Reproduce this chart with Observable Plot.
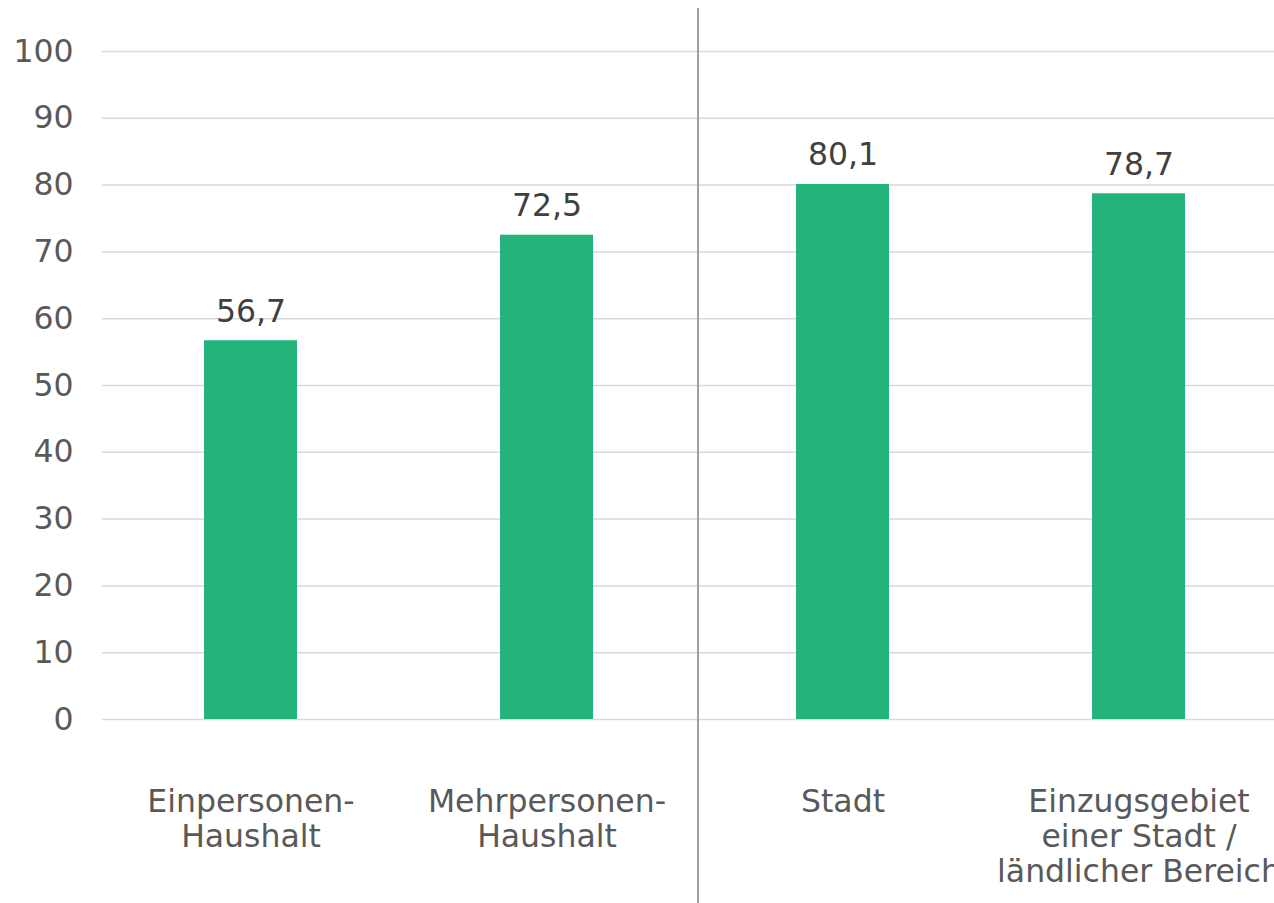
<!DOCTYPE html>
<html>
<head>
<meta charset="utf-8">
<script src="https://cdn.jsdelivr.net/npm/d3@7"></script>
<script src="https://cdn.jsdelivr.net/npm/@observablehq/plot@0.6"></script>
<style>
  html, body { margin: 0; padding: 0; background: #fff; overflow: hidden; }
  #chart svg { display: block; }
</style>
</head>
<body>
<div id="chart"></div>
<script>
const categories = ["Einpersonen-Haushalt", "Mehrpersonen-Haushalt", "Stadt", "Einzugsgebiet einer Stadt / ländlicher Bereich"];
const tickLabels = ["Einpersonen-\nHaushalt", "Mehrpersonen-\nHaushalt", "Stadt", "Einzugsgebiet\neiner Stadt /\nländlicher Bereich"];
const values = [56.7, 72.5, 80.1, 78.7];
const yTicks = [0, 10, 20, 30, 40, 50, 60, 70, 80, 90, 100];
const separatorBefore = ["Stadt"];

const data = categories.map((c, i) => ({category: c, value: values[i]}));
const labelOf = new Map(categories.map((c, i) => [c, tickLabels[i]]));
const fmt = v => v.toFixed(1).replace(".", ",");
const font = "DejaVu Sans, Verdana, sans-serif";

const chart = Plot.plot({
  width: 1274,
  height: 903,
  marginLeft: 102,
  marginRight: 0,
  marginTop: 51,
  marginBottom: 184,
  style: {fontFamily: font, background: "#fff"},
  x: {domain: categories, range: [102, 1286], paddingInner: 0.686, paddingOuter: 0.343, axis: null},
  y: {domain: [0, 100], axis: null},
  marks: [
    Plot.gridY(yTicks, {stroke: "#d9d9d9", strokeOpacity: 1, strokeWidth: 1.5}),
    Plot.axisY(yTicks, {label: null, tickSize: 0, tickPadding: 29, fontSize: 31.5, fill: "#595959", tickFormat: d => String(d)}),
    Plot.barY(data, {x: "category", y: "value", fill: "#23b37b"}),
    Plot.text(data, {x: "category", y: "value", text: d => fmt(d.value), lineAnchor: "bottom", dy: -19, fontSize: 31.5, fill: "#404040"}),
    Plot.axisX(categories, {label: null, tickSize: 0, tickPadding: 68, fontSize: 31.5, lineHeight: 1.11, fill: "#595959", tickFormat: d => labelOf.get(d)}),
    Plot.ruleX(separatorBefore, {x: d => d, dx: -145, stroke: "#a0a0a0", strokeWidth: 2, insetTop: -43, insetBottom: -184})
  ]
});
document.getElementById("chart").appendChild(chart);
</script>
</body>
</html>
